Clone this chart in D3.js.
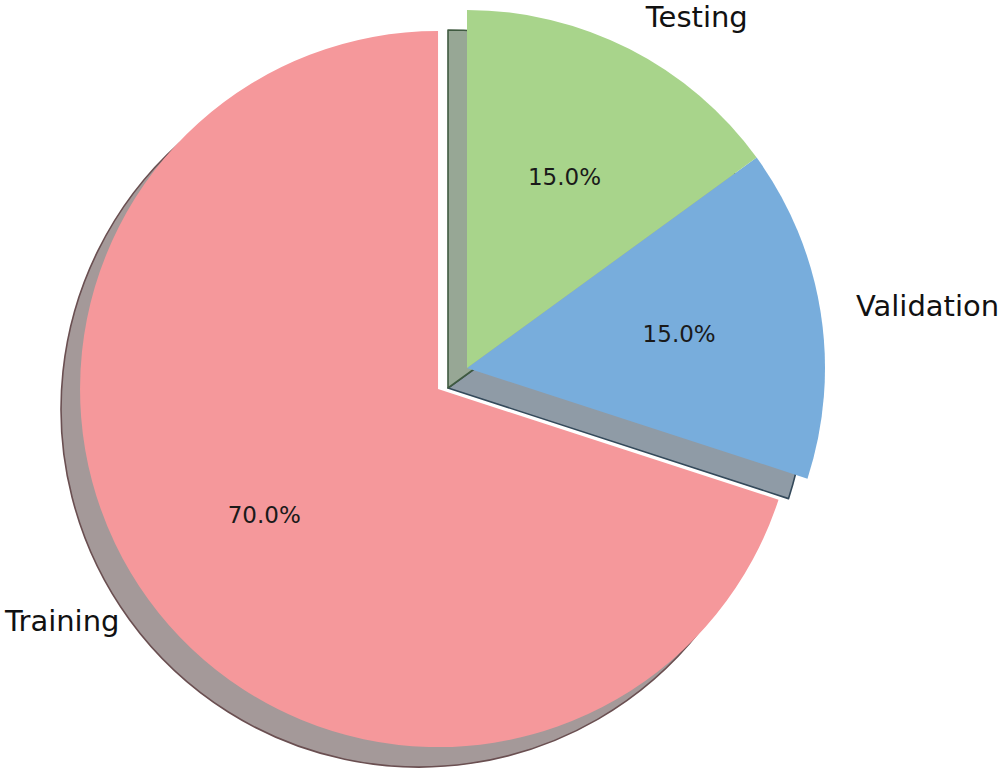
<!DOCTYPE html>
<html>
<head>
<meta charset="utf-8">
<script src="https://cdn.jsdelivr.net/npm/d3@7"></script>
<style>
  html, body { margin: 0; padding: 0; background: #fff; }
  svg { display: block; font-family: "DejaVu Sans", sans-serif; }
</style>
</head>
<body>
<svg id="chart" width="1005" height="774"></svg>
<script>
const labels = ["Training", "Validation", "Testing"];
const values = [70, 15, 15];
const explode = [0.1, 0, 0];

const fills = ["#f5989b", "#78addc", "#a8d48b"];
const shadowFills = ["#a49999", "#8f9ba6", "#97a795"];
const shadowEdges = ["#6a4f51", "#34495a", "#3f5a40"];

const svg = d3.select("#chart");
const cx = 467, cy = 368, radius = 358;
const shadowOffset = [-19, 20];

const rows = labels.map((label, i) => ({ label, value: values[i], explode: explode[i], i }));

// matplotlib style: start at 12 o'clock, go counter-clockwise
const pie = d3.pie().sort(null).value(d => d.value).startAngle(0).endAngle(-2 * Math.PI);
const arcs = pie(rows);
const arc = d3.arc().innerRadius(0).outerRadius(radius);

function shift(d) {
  const mid = (d.startAngle + d.endAngle) / 2;
  const e = d.data.explode * radius;
  return [e * Math.sin(mid), -e * Math.cos(mid)];
}

function along(d, k) {
  const mid = (d.startAngle + d.endAngle) / 2;
  const [sx, sy] = shift(d);
  return [sx + k * radius * Math.sin(mid), sy - k * radius * Math.cos(mid)];
}

const g = svg.append("g").attr("transform", `translate(${cx},${cy})`);

// shadows under everything
g.append("g").selectAll("path")
  .data(arcs)
  .join("path")
  .attr("transform", d => {
    const [dx, dy] = shift(d);
    return `translate(${dx + shadowOffset[0]},${dy + shadowOffset[1]})`;
  })
  .attr("d", arc)
  .attr("fill", d => shadowFills[d.data.i])
  .attr("stroke", d => shadowEdges[d.data.i])
  .attr("stroke-width", 1.6)
  .attr("stroke-linejoin", "round");

g.append("g").selectAll("path")
  .data(arcs)
  .join("path")
  .attr("transform", d => `translate(${shift(d)})`)
  .attr("d", arc)
  .attr("fill", d => fills[d.data.i]);

// percentage labels
g.append("g").selectAll("text")
  .data(arcs)
  .join("text")
  .attr("x", d => along(d, 0.6)[0])
  .attr("y", d => along(d, 0.6)[1])
  .attr("text-anchor", "middle")
  .attr("dominant-baseline", "central")
  .attr("font-size", 23)
  .attr("fill", "#1a1a1a")
  .text(d => `${d.data.value.toFixed(1)}%`);

// category labels
g.append("g").selectAll("text")
  .data(arcs)
  .join("text")
  .attr("x", d => along(d, 1.1)[0])
  .attr("y", d => along(d, 1.1)[1])
  .attr("text-anchor", d => along(d, 1.1)[0] > 0 ? "start" : "end")
  .attr("dominant-baseline", "central")
  .attr("font-size", 29)
  .attr("fill", "#111")
  .text(d => d.data.label);
</script>
</body>
</html>
